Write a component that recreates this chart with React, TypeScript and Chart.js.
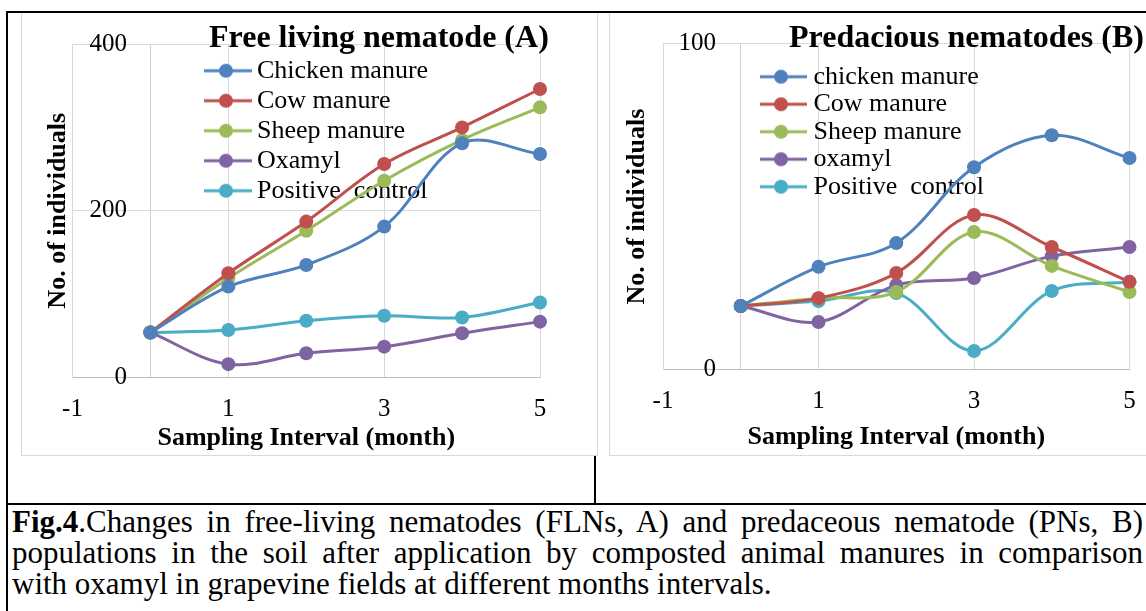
import React, { useEffect, useRef } from 'react';
import { Chart, registerables } from 'chart.js';

Chart.register(...registerables);

const SERIF = "'Liberation Serif', 'Times New Roman', serif";

// ---- data ----
const months = [0, 1, 2, 3, 4, 5];
const xTickValues = [-1, 1, 3, 5];
const xAxisCross = 0;
const yTicksA = [0, 200, 400];
const yTicksB = [0, 100];

const namesA = ['Chicken manure', 'Cow manure', 'Sheep manure', 'Oxamyl', 'Positive  control'];
const chickenA = [54, 109, 135, 181, 281, 268];
const cowA = [54, 125, 187, 256, 300, 346];
const sheepA = [54, 119, 176, 236, 285, 324];
const oxamylA = [54, 16, 29, 37, 53, 67];
const positiveA = [54, 57, 68, 74, 72, 90];

const namesB = ['chicken manure', 'Cow manure', 'Sheep manure', 'oxamyl', 'Positive  control'];
const chickenB = [19.5, 31.5, 38.8, 62.1, 71.9, 64.9];
const cowB = [19.5, 21.9, 29.6, 47.4, 37.6, 26.9];
const sheepB = [19.5, 21.9, 23.8, 42.2, 31.8, 23.8];
const oxamylB = [19.5, 14.6, 25.9, 28.1, 34.8, 37.6];
const positiveB = [19.5, 21.0, 23.5, 5.7, 24.1, 26.9];

const colors = ['#4F81BD', '#C0504D', '#9BBB59', '#8064A2', '#4BACC6'];

function legendSymbol(color: string) {
  const c = document.createElement('canvas');
  c.width = 52;
  c.height = 16;
  const g = c.getContext('2d')!;
  g.strokeStyle = color;
  g.lineWidth = 3;
  g.beginPath();
  g.moveTo(0, 8);
  g.lineTo(52, 8);
  g.stroke();
  g.fillStyle = color;
  g.beginPath();
  g.arc(26, 8, 7, 0, Math.PI * 2);
  g.fill();
  return c;
}

const legendPlacer = {
  id: 'legendPlacer',
  afterLayout(chart: any, _args: any, opts: any) {
    const lg = chart.legend;
    if (!lg) return;
    const pad = chart.options.plugins.legend.labels.padding;
    lg.left = opts.x - pad;
    lg.top = opts.y - pad;
    lg.right = lg.left + lg.width;
    lg.bottom = lg.top + 1000;
  },
};

function buildConfig(names: string[], series: number[][], yMax: number, yTicks: number[], L: any) {
  const symbols = colors.map((c) => legendSymbol(c));
  return {
    type: 'line',
    data: {
      datasets: series.map((vals, i) => ({
        label: names[i],
        data: months.map((m, j) => ({ x: m, y: vals[j] })),
        borderColor: colors[i],
        backgroundColor: colors[i],
        pointBackgroundColor: colors[i],
        pointBorderColor: colors[i],
        borderWidth: 3,
        pointRadius: 7,
        pointHoverRadius: 7,
        pointBorderWidth: 0,
        tension: 0.35,
        clip: false,
        fill: false,
      })),
    },
    options: {
      responsive: false,
      animation: false,
      events: [],
      layout: { padding: { left: 0, top: L.top, right: L.right, bottom: 0 } },
      scales: {
        x: {
          type: 'linear',
          min: -1,
          max: 5,
          afterBuildTicks: (s: any) => {
            s.ticks = [...xTickValues, xAxisCross].sort((a, b) => a - b).map((v) => ({ value: v }));
          },
          afterFit: (s: any) => {
            s.height = L.xHeight;
          },
          grid: {
            color: (ctx: any) => (ctx.tick && ctx.tick.value === xAxisCross ? '#CFCFCF' : '#D9D9D9'),
            lineWidth: 1,
            drawTicks: false,
          },
          border: { color: '#BFBFBF', width: 1 },
          ticks: {
            autoSkip: false,
            maxRotation: 0,
            padding: L.xTickPad,
            color: '#000',
            font: { family: SERIF, size: 25 },
            callback: (v: number) => (xTickValues.includes(v) ? String(v) : ''),
          },
          title: {
            display: true,
            text: 'Sampling Interval (month)',
            color: '#000',
            font: { family: SERIF, size: 26, weight: 'bold' },
            padding: { top: 0, bottom: L.xTitlePad },
          },
        },
        y: {
          type: 'linear',
          position: 'left',
          min: 0,
          max: yMax,
          afterBuildTicks: (s: any) => {
            s.ticks = yTicks.map((v) => ({ value: v }));
          },
          afterFit: (s: any) => {
            s.width = L.yWidth;
          },
          grid: { color: '#D9D9D9', lineWidth: 1, drawTicks: false },
          border: { color: '#D9D9D9', width: 1 },
          ticks: {
            mirror: true,
            crossAlign: 'far',
            padding: L.yTickPad,
            color: '#000',
            font: { family: SERIF, size: 25 },
          },
          title: {
            display: true,
            text: 'No. of individuals',
            color: '#000',
            font: { family: SERIF, size: 26, weight: 'bold' },
            padding: { top: L.yTitlePad, bottom: 0 },
          },
        },
      },
      plugins: {
        title: { display: false },
        tooltip: { enabled: false },
        legend: {
          position: 'chartArea',
          align: 'start',
          labels: {
            usePointStyle: true,
            pointStyleWidth: L.boxW,
            padding: L.legPad,
            color: '#000',
            font: { family: SERIF, size: 26 },
            generateLabels: (chart: any) =>
              chart.data.datasets.map((ds: any, i: number) => ({
                text: ds.label,
                pointStyle: symbols[i],
                fillStyle: colors[i],
                strokeStyle: colors[i],
                lineWidth: 0,
                hidden: false,
                rotation: 0,
                datasetIndex: i,
              })),
          },
        },
        legendPlacer: { x: L.legX, y: L.legY },
      },
    },
    plugins: [legendPlacer],
  } as any;
}

const layoutA = {
  top: 27, right: 57, xHeight: 77.5, xTickPad: 16.5, xTitlePad: 1.4,
  yWidth: 50.5, yTickPad: 17, yTitlePad: 20.4, boxW: 36, legPad: 4, legX: 186, legY: 45.7,
};
const layoutB = {
  top: 31.7, right: 38.5, xHeight: 85.5, xTickPad: 17.2, xTitlePad: 2.4,
  yWidth: 53, yTickPad: 15.5, yTitlePad: 11.4, boxW: 39, legPad: 1.5, legX: 151.5, legY: 51.7,
};

const lineStyle = (l: number, t: number, w: number, h: number): React.CSSProperties => ({
  position: 'absolute', left: l, top: t, width: w, height: h, background: '#000', zIndex: 3,
});

export default function App() {
  const refA = useRef<HTMLCanvasElement>(null);
  const refB = useRef<HTMLCanvasElement>(null);

  useEffect(() => {
    const a = new Chart(refA.current!, buildConfig(namesA, [chickenA, cowA, sheepA, oxamylA, positiveA], 400, yTicksA, layoutA));
    const b = new Chart(refB.current!, buildConfig(namesB, [chickenB, cowB, sheepB, oxamylB, positiveB], 100, yTicksB, layoutB));
    return () => {
      a.destroy();
      b.destroy();
    };
  }, []);

  const titleStyle = (left: number): React.CSSProperties => ({
    position: 'absolute', left, top: 20, fontFamily: SERIF, fontWeight: 'bold', fontSize: 32,
    lineHeight: '32px', whiteSpace: 'nowrap', color: '#000', zIndex: 4,
  });
  const capLine: React.CSSProperties = {
    height: 31, lineHeight: '31px', whiteSpace: 'nowrap', textAlign: 'justify', textAlignLast: 'justify' as any,
  };

  return (
    <div style={{ position: 'absolute', left: 0, top: 0, width: 1146, height: 611, overflow: 'hidden', background: '#fff' }}>
      <div style={{ position: 'absolute', left: 21, top: 11, width: 577, height: 445, boxSizing: 'border-box', border: '1px solid #D9D9D9', background: '#fff', zIndex: 1 }}>
        <canvas ref={refA} width={575} height={443} style={{ display: 'block' }} />
      </div>
      <div style={{ position: 'absolute', left: 609, top: 11, width: 560, height: 445, boxSizing: 'border-box', border: '1px solid #D9D9D9', background: '#fff', zIndex: 1 }}>
        <canvas ref={refB} width={558} height={443} style={{ display: 'block' }} />
      </div>
      <div style={titleStyle(209)}>Free living nematode (A)</div>
      <div style={titleStyle(789)}>Predacious nematodes (B)</div>

      <div style={lineStyle(6, 11, 1140, 2)} />
      <div style={lineStyle(6, 11, 2, 600)} />
      <div style={lineStyle(594, 456, 2, 48)} />
      <div style={lineStyle(6, 503, 1140, 2)} />

      <div style={{ position: 'absolute', left: 12, top: 506, width: 1131, fontFamily: SERIF, fontSize: 31, color: '#000', zIndex: 2 }}>
        <div style={capLine}><b>Fig.4</b>.Changes in free-living nematodes (FLNs, A) and predaceous nematode (PNs, B)</div>
        <div style={capLine}>populations in the soil after application by composted animal manures in comparison</div>
        <div style={{ height: 31, lineHeight: '31px', whiteSpace: 'nowrap' }}>with oxamyl in grapevine fields at different months intervals.</div>
      </div>
    </div>
  );
}
